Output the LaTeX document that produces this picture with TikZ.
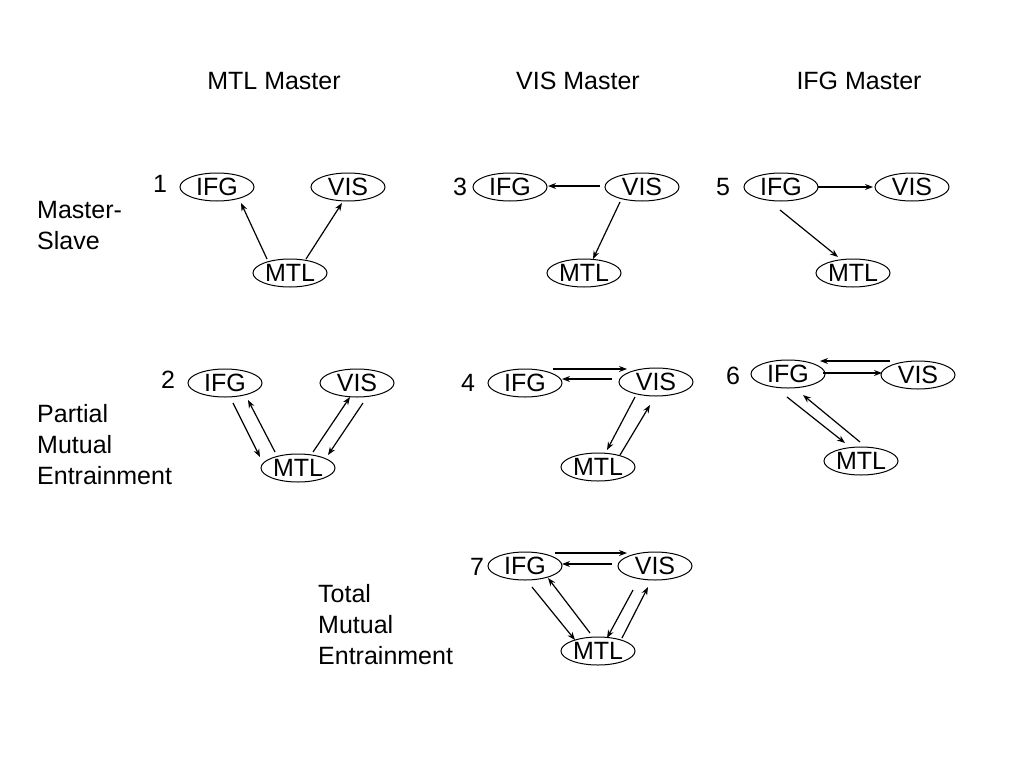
\documentclass[tikz,border=0pt]{standalone}
\usepackage{fontspec}
\setmainfont{Liberation Sans}
\usetikzlibrary{arrows.meta,shapes.geometric}
\begin{document}
\begin{tikzpicture}[x=1pt,y=-1pt,
  every node/.style={font=\fontsize{25}{31}\selectfont, inner sep=0pt},
  area/.style={draw, ellipse, line width=1pt, minimum width=74pt, minimum height=28pt},
  arr/.style={-{Stealth[length=8pt,width=6pt]}, line width=1.2pt},
  lab/.style={anchor=base west, align=left}]
\useasboundingbox[fill=white] (0,0) rectangle (1024,768);

% headers
\node (h1) at (274,81) {MTL Master};
\node (h2) at (578,81) {VIS Master};
\node (h3) at (859,81) {IFG Master};

% row labels (base = last line)
\node[lab] (l1) at (37,249) {Master-\\Slave};
\node[lab] (l2) at (37,484) {Partial\\Mutual\\Entrainment};
\node[lab] (l3) at (318,664) {Total\\Mutual\\Entrainment};

% numbers
\node (n1) at (160,184) {1};
\node (n2) at (168,380) {2};
\node (n3) at (460,187) {3};
\node (n4) at (468,383) {4};
\node (n5) at (723,187) {5};
\node (n6) at (733,376) {6};
\node (n7) at (477,567) {7};

% diagram 1
\node[area] (I1) at (217,187) {IFG};
\node[area] (V1) at (348,187) {VIS};
\node[area] (M1) at (290,273) {MTL};
\draw[arr] ([shift={(-23,-14)}]M1.center) -- ([shift={(24,16)}]I1.center);
\draw[arr] ([shift={(16,-14)}]M1.center) -- ([shift={(-6,16)}]V1.center);

% diagram 3
\node[area] (I3) at (510,187) {IFG};
\node[area] (V3) at (642,187) {VIS};
\node[area] (M3) at (584,273) {MTL};
\draw[arr] ([shift={(-42,-1)}]V3.center) -- ([shift={(38,-1)}]I3.center);
\draw[arr] ([shift={(-22,15)}]V3.center) -- ([shift={(9,-14)}]M3.center);

% diagram 5
\node[area] (I5) at (781,187) {IFG};
\node[area] (V5) at (912,187) {VIS};
\node[area] (M5) at (853,273) {MTL};
\draw[arr] ([shift={(37,0)}]I5.center) -- ([shift={(-39,0)}]V5.center);
\draw[arr] ([shift={(-1,23)}]I5.center) -- ([shift={(-15,-16)}]M5.center);

% diagram 2
\node[area] (I2) at (225,383) {IFG};
\node[area] (V2) at (357,383) {VIS};
\node[area] (M2) at (298,468) {MTL};
\draw[arr] ([shift={(8,20)}]I2.center) -- ([shift={(-38,-11)}]M2.center);
\draw[arr] ([shift={(-23,-16)}]M2.center) -- ([shift={(23,17)}]I2.center);
\draw[arr] ([shift={(15,-16)}]M2.center) -- ([shift={(-7,14)}]V2.center);
\draw[arr] ([shift={(6,20)}]V2.center) -- ([shift={(30,-13)}]M2.center);

% diagram 4
\node[area] (I4) at (525,383) {IFG};
\node[area] (V4) at (656,382) {VIS};
\node[area] (M4) at (598,467) {MTL};
\draw[arr] ([shift={(28,-14)}]I4.center) -- ([shift={(-29,-13)}]V4.center);
\draw[arr] ([shift={(-44,-3)}]V4.center) -- ([shift={(37,-4)}]I4.center);
\draw[arr] ([shift={(-21,15)}]V4.center) -- ([shift={(9,-17)}]M4.center);
\draw[arr] ([shift={(22,-12)}]M4.center) -- ([shift={(-6,23)}]V4.center);

% diagram 6
\node[area] (I6) at (788,374) {IFG};
\node[area] (V6) at (918,375) {VIS};
\node[area] (M6) at (861,461) {MTL};
\draw[arr] ([shift={(-28,-14)}]V6.center) -- ([shift={(32,-13)}]I6.center);
\draw[arr] ([shift={(35,-1)}]I6.center) -- ([shift={(-36,-2)}]V6.center);
\draw[arr] ([shift={(-1,23)}]I6.center) -- ([shift={(-16,-18)}]M6.center);
\draw[arr] ([shift={(-1,-19)}]M6.center) -- ([shift={(15,21)}]I6.center);

% diagram 7
\node[area] (I7) at (525,566) {IFG};
\node[area] (V7) at (655,566) {VIS};
\node[area] (M7) at (598,651) {MTL};
\draw[arr] ([shift={(30,-13)}]I7.center) -- ([shift={(-28,-13)}]V7.center);
\draw[arr] ([shift={(-43,-2)}]V7.center) -- ([shift={(37,-2)}]I7.center);
\draw[arr] ([shift={(7,21)}]I7.center) -- ([shift={(-23,-11)}]M7.center);
\draw[arr] ([shift={(-8,-18)}]M7.center) -- ([shift={(23,12)}]I7.center);
\draw[arr] ([shift={(-22,24)}]V7.center) -- ([shift={(9,-13)}]M7.center);
\draw[arr] ([shift={(24,-13)}]M7.center) -- ([shift={(-7,21)}]V7.center);
\end{tikzpicture}
\end{document}
